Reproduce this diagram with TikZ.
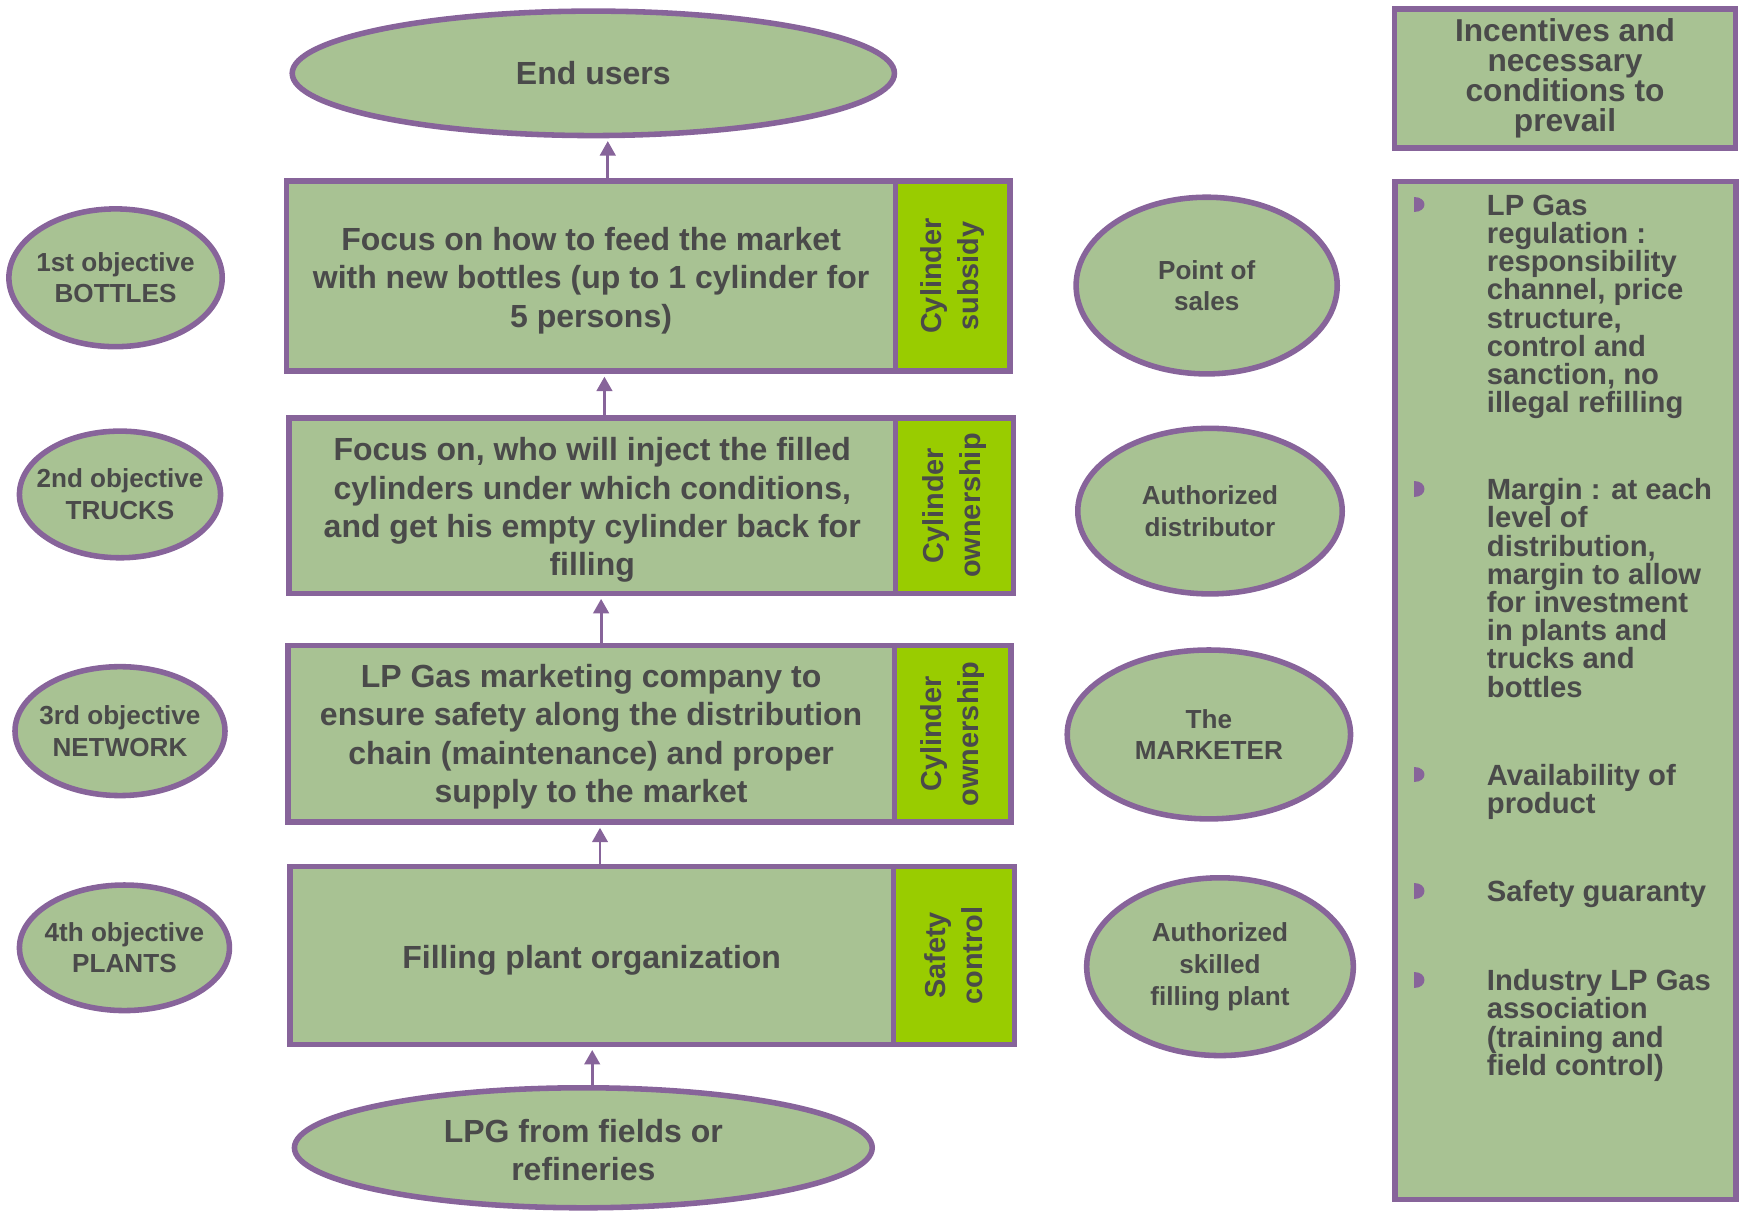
\documentclass[tikz,border=0pt]{standalone}
\usepackage{fontspec}
\setmainfont{Liberation Sans}
\usetikzlibrary{shapes.geometric,arrows.meta}
\definecolor{sage}{HTML}{A8C293}
\definecolor{purp}{HTML}{87649A}
\definecolor{lime}{HTML}{99CC00}
\definecolor{txt}{HTML}{4A4A4A}
\lineskiplimit=-50pt
\newcommand{\dn}{\rule{0pt}{29pt}}
\begin{document}
\begin{tikzpicture}[x=1pt,y=-1pt,
 base/.style={draw=purp,line width=5pt,fill=sage,text=txt,inner sep=0pt,align=center},
 mainbox/.style={base,rectangle,font=\fontsize{28.8}{34.5}\selectfont\bfseries},
 sidebox/.style={base,rectangle,fill=lime,rotate=90,font=\fontsize{26}{33}\selectfont\bfseries},
 bigell/.style={base,ellipse,inner xsep=-60pt,inner ysep=-10pt,font=\fontsize{28.8}{34.5}\selectfont\bfseries},
 smallell/.style={base,ellipse,inner xsep=-40pt,inner ysep=-10pt,font=\fontsize{23.5}{28.5}\selectfont\bfseries},
 headbox/.style={base,rectangle,font=\fontsize{28.5}{27}\selectfont\bfseries},
 arr/.style={draw=purp,line width=2.5pt,shorten >=2.5pt,-{Triangle[width=14pt,length=13pt]}},
 listtext/.style={anchor=north west,text=txt,align=left,inner sep=0pt,font=\fontsize{26.3}{25.4}\selectfont\bfseries},
 bullet/.style={fill=purp},
]
\useasboundingbox (0,0) rectangle (1566,1090);

% central chain
\node[bigell,minimum width=542pt,minimum height=112pt] (eu) at (534,66) {End users};
\node[mainbox,minimum width=548pt,minimum height=171pt] (b1) at (532,248.5) {\dn Focus on how to feed the market\\with new bottles (up to 1 cylinder for\\5 persons)};
\node[sidebox,minimum width=171pt,minimum height=103pt] (s1) at (857.5,248.5) {Cylinder\\subsidy};
\node[mainbox,minimum width=546pt,minimum height=158pt] (b2) at (533,455) {\dn Focus on, who will inject the filled\\cylinders under which conditions,\\and get his empty cylinder back for\\filling};
\node[sidebox,minimum width=158pt,minimum height=106pt] (s2) at (859,455) {Cylinder\\ownership};
\node[mainbox,minimum width=546pt,minimum height=159pt] (b3) at (532,660.5) {\rule{0pt}{26pt}LP Gas marketing company to\\ensure safety along the distribution\\chain (maintenance) and proper\\supply to the market};
\node[sidebox,minimum width=159pt,minimum height=105pt] (s3) at (857.5,660.5) {Cylinder\\ownership};
\node[mainbox,minimum width=543pt,minimum height=160pt] (b4) at (532.5,860) {\dn Filling plant organization};
\node[sidebox,minimum width=160pt,minimum height=109pt] (s4) at (858.5,860) {Safety\\control};
\node[bigell,minimum width=520pt,minimum height=108pt] (lpg) at (525,1033) {\rule{0pt}{25pt}LPG from fields or\\refineries};

% arrows
\coordinate (a1) at ([xshift=15pt]b1.north);
\coordinate (a2) at ([xshift=11pt]b2.north);
\coordinate (a3) at ([xshift=9pt]b3.north);
\coordinate (a4) at ([xshift=7.5pt]b4.north);
\coordinate (a5) at ([xshift=8pt]lpg.north);
\draw[arr] (a1) -- (a1 |- eu.south);
\draw[arr] (a2) -- (a2 |- b1.south);
\draw[arr] (a3) -- (a3 |- b2.south);
\draw[arr] (a4) -- (a4 |- b3.south);
\draw[arr] (a5) -- (a5 |- b4.south);

% left objectives
\node[smallell,minimum width=192pt,minimum height=124pt] (o1) at (104,250) {1st objective\\BOTTLES};
\node[smallell,minimum width=181pt,minimum height=114pt] (o2) at (108,445) {2nd objective\\TRUCKS};
\node[smallell,minimum width=189pt,minimum height=116pt] (o3) at (108,658) {3rd objective\\NETWORK};
\node[smallell,minimum width=189pt,minimum height=113pt] (o4) at (112,853) {4th objective\\PLANTS};

% right actors
\node[smallell,minimum width=235pt,minimum height=159pt] (r1) at (1086,257) {Point of\\sales};
\node[smallell,minimum width=238pt,minimum height=149pt] (r2) at (1089,460) {Authorized\\distributor};
\node[smallell,minimum width=255pt,minimum height=152pt] (r3) at (1088,661) {The\\MARKETER};
\node[smallell,minimum width=240pt,minimum height=160pt] (r4) at (1098,870) {Authorized\\skilled\\filling plant};

% incentives
\node[headbox,minimum width=307pt,minimum height=125pt] (inc) at (1408.5,70.5) {Incentives and\\necessary\\conditions to\\prevail};
\node[base,rectangle,minimum width=307pt,minimum height=916pt] (lst) at (1409,621.5) {};

\node[listtext] (i1) at (1338,173.4) {\rule{0pt}{20pt}LP Gas\\regulation :\\responsibility\\channel, price\\structure,\\control and\\sanction, no\\illegal refilling};
\node[listtext] (i2) at (1338,429.4) {\rule{0pt}{20pt}Margin : at each\\level of\\distribution,\\margin to allow\\for investment\\in plants and\\trucks and\\bottles};
\node[listtext] (i3) at (1338,686.4) {\rule{0pt}{20pt}Availability of\\product};
\node[listtext] (i4) at (1338,791.4) {\rule{0pt}{20pt}Safety guaranty};
\node[listtext] (i5) at (1338,871.4) {\rule{0pt}{20pt}Industry LP Gas\\association\\(training and\\field control)};

\foreach \yy in {184,440,697,802,882}{
  \fill[bullet] (1273,\yy-7) .. controls (1285,\yy-7) and (1285,\yy+7) .. (1273,\yy+7) -- cycle;
}
\end{tikzpicture}
\end{document}
